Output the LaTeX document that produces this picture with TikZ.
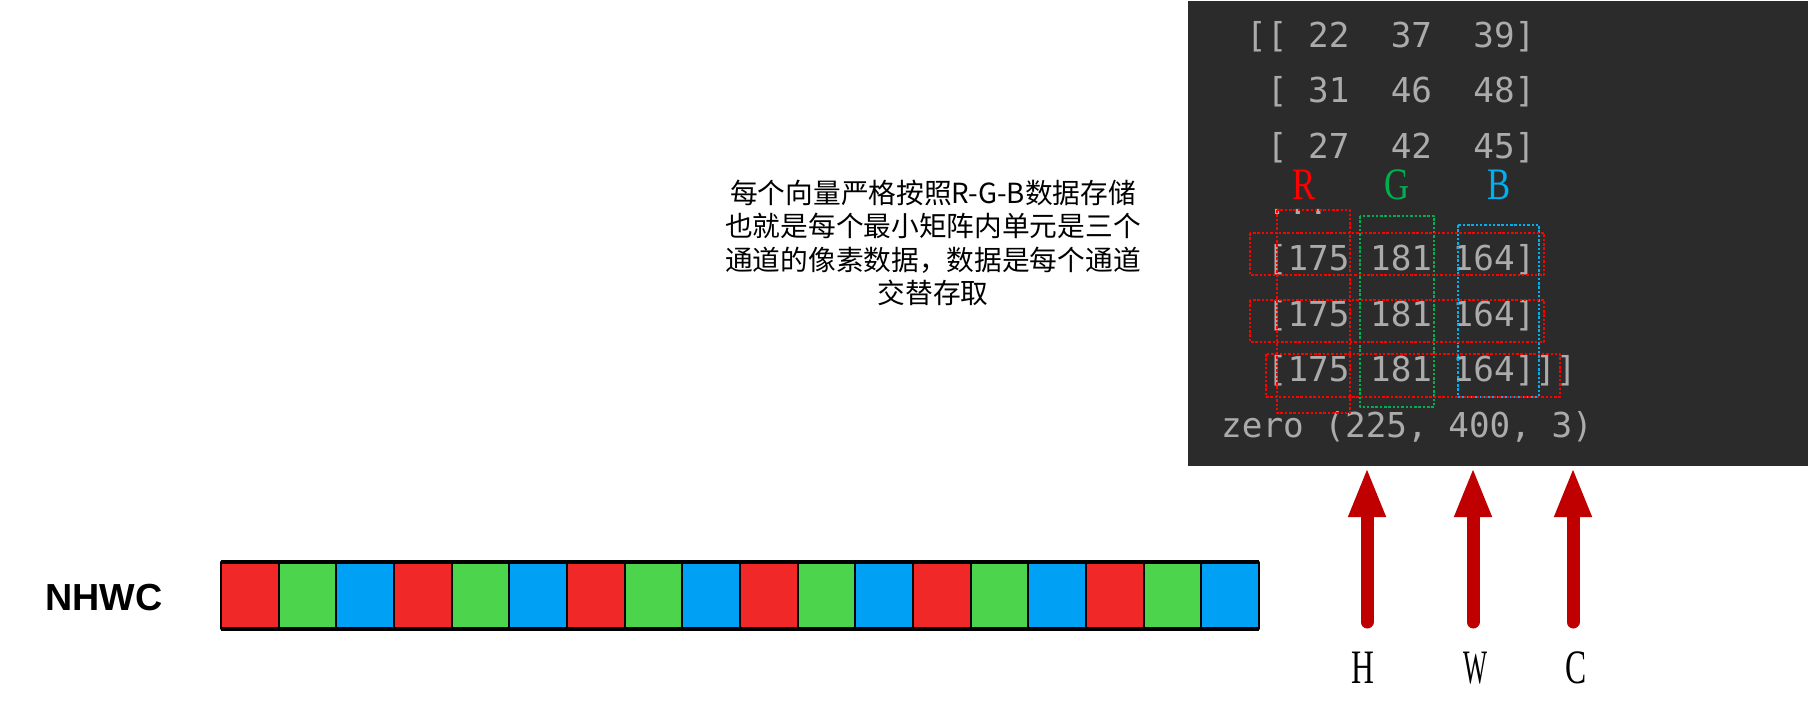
\documentclass[tikz,border=0pt]{standalone}
\usepackage{fontspec}
\usepackage{graphicx}
\newfontfamily\cjk{Noto Sans CJK SC}
\newfontfamily\codefont{DejaVu Sans Mono}
\newfontfamily\tnr{Liberation Serif}
\newfontfamily\arial{Liberation Sans}
\usetikzlibrary{arrows.meta}
\definecolor{panel}{HTML}{2B2B2B}
\definecolor{code}{HTML}{ABABAB}
\definecolor{cR}{HTML}{F02828}
\definecolor{cG}{HTML}{4CD44C}
\definecolor{cB}{HTML}{00A0F5}
\definecolor{arr}{HTML}{C00000}
\definecolor{gbox}{HTML}{00B050}
\definecolor{bbox}{HTML}{00B0F0}
\newcommand\narrow[2]{\scalebox{#1}[1]{#2}}
\begin{document}
\begin{tikzpicture}[x=1pt,y=-1pt,line join=round,line cap=round,
	rowtext/.style={anchor=base west,inner sep=0pt,text=code,font=\codefont\fontsize{34.3}{40}\selectfont},
	dotbox/.style={line width=1.3pt,dash pattern=on 2.5pt off 1.8pt,line cap=butt},
	rgb/.style={inner sep=0pt,font=\tnr\fontsize{45}{50}\selectfont},
	hwc/.style={inner sep=0pt,font=\tnr\fontsize{48}{50}\selectfont},
	cell/.style={draw=black,line width=2pt},
	up/.style={arr,line width=13pt,-{Triangle[width=34pt,length=50pt]}}]
	\useasboundingbox (0,0) rectangle (1811,718);
	\fill[white] (0,0) rectangle (1811,718);
	% code window
	\fill[panel] (1188,1) rectangle (1808,466);
	\foreach \k/\t in {0/{[[~22~~37~~39]},1/{~[~31~~46~~48]},2/{~[~27~~42~~45]},
		4/{~[175~181~164]},5/{~[175~181~164]},6/{~[175~181~164]]]}}
	\node[rowtext] (row\k) at (1246,{47+55.8*\k}) {\t};
	\node[rowtext] (row3) at (1246,{47+55.8*3}) {~...};
	\node[rowtext] (zero) at (1221,{47+55.8*7}) {zero (225, 400, 3)};
	\foreach \p/\x/\c in {R/1304/red,G/1397/gbox,B/1499/bbox}
	\node[rgb,text=\c] (\p) at (\x,185) {\narrow{0.77}{\p}};
	\draw[dotbox,red] (1277,210) rectangle (1350,413);
	\draw[dotbox,gbox] (1360,216) rectangle (1434,407);
	\draw[dotbox,bbox] (1458,225) rectangle (1539,397);
	\draw[dotbox,red] (1250,233) rectangle (1544,275)
	(1250,300) rectangle (1544,342)
	(1266,354) rectangle (1560,397);
	% note
	\node[align=center,inner sep=0pt,font=\cjk\fontsize{27.7}{33.5}\selectfont] (note) at (933,243)
	{每个向量严格按照R-G-B数据存储\\也就是每个最小矩阵内单元是三个\\通道的像素数据，数据是每个通道\\交替存取};
	% NHWC bar
	\node[inner sep=0pt,font=\arial\bfseries\fontsize{37.7}{40}\selectfont] (nhwc) at (104,598) {NHWC};
	\foreach \i in {0,...,5}
	\foreach \c [count=\j from 0] in {cR,cG,cB}
	\filldraw[cell,fill=\c] ({221+57.67*(3*\i+\j)},562) rectangle +(57.67,67);
	\draw[line width=3.5pt,line cap=butt] (221,562) -- (1259,562) (221,629) -- (1259,629);
	% H W C arrows
	\foreach \p/\a/\l/\s in {H/1367/1363/0.66,W/1473/1475/0.53,C/1573/1576/0.66}{
		\path (\a,622) coordinate (\p foot) (\a,467) coordinate (\p tip);
		\node[hwc] (\p) at (\l,668) {\narrow{\s}{\p}};
		\draw[up] (\p foot) -- (\p tip);
	}
\end{tikzpicture}
\end{document}
